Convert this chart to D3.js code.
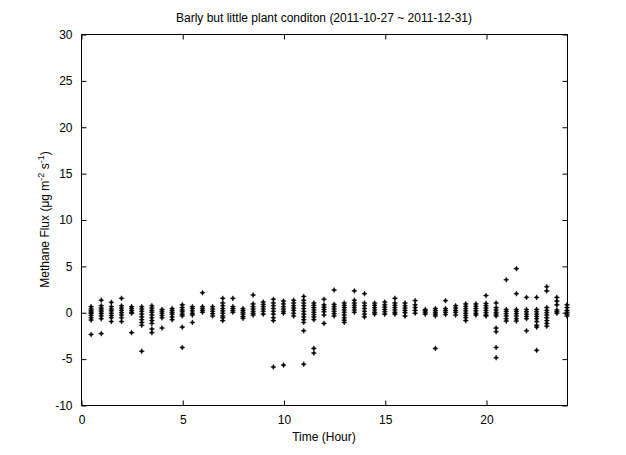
<!DOCTYPE html>
<html><head><meta charset="utf-8">
<script src="https://cdn.jsdelivr.net/npm/d3@7"></script>
<style>body{margin:0;background:#fff}svg{display:block;font-family:"Liberation Sans",Arial,sans-serif}</style>
</head><body>
<svg id="c" width="626" height="455"></svg>
<script>
const title = "Barly but little plant conditon (2011-10-27 ~ 2011-12-31)";
const xTicks = [0, 5, 10, 15, 20];
const yTicks = [-10, -5, 0, 5, 10, 15, 20, 25, 30];
const hours = [0.5,1.0,1.5,2.0,2.5,3.0,3.5,4.0,4.5,5.0,5.5,6.0,6.5,7.0,7.5,8.0,
  8.5,9.0,9.5,10.0,10.5,11.0,11.5,12.0,12.5,13.0,13.5,14.0,14.5,15.0,15.5,16.0,
  16.5,17.0,17.5,18.0,18.5,19.0,19.5,20.0,20.5,21.0,21.5,22.0,22.5,23.0,23.5,24.0];
const flux = [
  [0.6,0.35,0.15,0,-0.15,-0.35,-0.6,-0.84,-2.4],
  [1.3,0.7,0.45,0.25,0.05,-0.15,-0.4,-0.7,-2.3],
  [1.07,0.6,0.35,0.15,-0.1,-0.35,-0.6,-1.0],
  [1.5,0.7,0.45,0.2,-0.05,-0.3,-0.6,-1.0],
  [0.6,0.4,0.2,0,-0.1,-2.2],
  [0.6,0.35,0.1,-0.2,-0.5,-0.8,-1.1,-1.4,-4.2],
  [0.7,0.45,0.2,0,-0.3,-0.6,-0.9,-1.2,-1.8,-2.2],
  [0.3,0.1,-0.1,-0.35,-0.6,-1.7],
  [0.4,0.2,0,-0.2,-0.5,-0.8],
  [0.8,0.5,0.25,0.05,-0.2,-0.4,-1.6,-3.8],
  [0.6,0.4,0.15,-0.1,-0.3,-1.1],
  [2.1,0.6,0.4,0.2,0],
  [0.6,0.35,0.1,-0.15,-0.4],
  [1.5,1.0,0.7,0.4,0.15,-0.1,-0.4,-0.6,-0.9],
  [1.5,0.6,0.4,0.2,0],
  [0.4,0.2,0,-0.2,-0.45,-0.65],
  [1.86,0.9,0.6,0.35,0.1,-0.1,-0.3],
  [1.1,0.85,0.6,0.35,0.1,-0.2],
  [1.4,1.0,0.7,0.4,0.1,-0.2,-0.6,-0.9,-5.9],
  [1.2,0.9,0.6,0.35,0.1,-0.1,-5.7],
  [1.3,1.0,0.7,0.45,0.2,-0.1,-0.4],
  [1.7,1.3,1.0,0.7,0.4,0.1,-0.2,-0.5,-0.8,-1.1,-2.0,-5.6],
  [1.0,0.75,0.5,0.25,0,-0.25,-0.5,-0.8,-3.9,-4.4],
  [1.4,0.8,0.55,0.3,0.05,-0.3,-1.2],
  [2.4,0.85,0.6,0.35,0.1,-0.15,-0.4],
  [1.0,0.75,0.5,0.25,0,-0.3,-0.6,-0.85,-1.1],
  [2.3,1.3,1.0,0.75,0.5,0.25,0],
  [2.0,1.0,0.7,0.4,0.1,-0.2,-0.5],
  [1.0,0.75,0.5,0.25,0,-0.2],
  [1.1,0.8,0.55,0.3,0.05,-0.2],
  [1.5,1.0,0.75,0.5,0.25,0,-0.2],
  [1.0,0.7,0.45,0.2,-0.05,-0.4],
  [1.25,0.8,0.5,0.2,-0.1],
  [0.3,0.15,0,-0.2],
  [0.4,0.2,0,-0.2,-0.4,-3.9],
  [1.25,0.4,0.2,0,-0.25],
  [0.7,0.45,0.2,0,-0.3],
  [0.9,0.65,0.4,0.15,-0.1,-0.35,-0.6,-0.9],
  [0.9,0.65,0.4,0.15,-0.1,-0.3],
  [1.8,0.95,0.7,0.45,0.2,-0.05,-0.3,-0.4],
  [1.0,0.5,0.25,0,-0.2,-0.4,-1.7,-2.1,-3.8,-4.9],
  [3.5,0.3,0.1,-0.15,-0.4,-0.7,-0.95],
  [4.7,2.0,0.3,0.1,-0.15,-0.4,-0.7,-0.95],
  [1.6,0.3,0.05,-0.2,-0.45,-0.7,-2.0],
  [1.6,0.3,0.05,-0.2,-0.45,-0.7,-1.0,-1.4,-1.6,-4.1],
  [2.75,2.3,0.5,0.2,-0.05,-0.3,-0.6,-0.9,-1.2,-1.5],
  [1.6,1.2,0.8,0.25,0.05,-0.1],
  [0.8,0.5,0.2,0,-0.2,-0.4]
];

const svg = d3.select("#c");
const m = {l:81, r:567, t:34, b:405};
const x = d3.scaleLinear().domain([0,24]).range([m.l, m.r]);
const y = d3.scaleLinear().domain([-10,30]).range([m.b, m.t]);

const pts = [];
hours.forEach((h,i)=>(flux[i]||[]).forEach(v=>pts.push([h,v])));

svg.append("clipPath").attr("id","clip").append("rect")
  .attr("x",m.l).attr("y",m.t).attr("width",m.r-m.l+4).attr("height",m.b-m.t);
svg.append("g").attr("clip-path","url(#clip)")
  .selectAll("path").data(pts).join("path")
  .attr("transform",d=>`translate(${x(d[0])},${y(d[1])})`)
  .attr("d","M0,-2.6L0.8,-0.8L2.6,0L0.8,0.8L0,2.6L-0.8,0.8L-2.6,0L-0.8,-0.8Z")
  .attr("fill","#000").attr("stroke","#000").attr("stroke-width",0.5);

const tl = 5;
svg.append("rect").attr("x",m.l+0.5).attr("y",m.t+0.5).attr("width",m.r-m.l).attr("height",m.b-m.t)
  .attr("fill","none").attr("stroke","#000");

const fmt = d => String(d);
const xb = svg.append("g").attr("transform",`translate(0.5,${m.b+0.5})`)
  .call(d3.axisBottom(x).tickValues(xTicks).tickFormat(fmt).tickSizeInner(-tl).tickSizeOuter(0).tickPadding(10));
const xt = svg.append("g").attr("transform",`translate(0.5,${m.t+0.5})`)
  .call(d3.axisTop(x).tickValues(xTicks).tickSizeInner(-tl).tickSizeOuter(0).tickFormat(""));
const yl = svg.append("g").attr("transform",`translate(${m.l+0.5},0.5)`)
  .call(d3.axisLeft(y).tickValues(yTicks).tickFormat(fmt).tickSizeInner(-tl).tickSizeOuter(0).tickPadding(9));
const yr = svg.append("g").attr("transform",`translate(${m.r+0.5},0.5)`)
  .call(d3.axisRight(y).tickValues(yTicks).tickSizeInner(-tl).tickSizeOuter(0).tickFormat(""));
[xb,xt,yl,yr].forEach(g=>{g.select(".domain").remove();
  g.selectAll("text").attr("font-size",12).attr("font-family","Liberation Sans, Arial, sans-serif").attr("fill","#000");
  g.selectAll("line").attr("stroke","#000");});

svg.append("text").attr("x",(m.l+m.r)/2).attr("y",22).attr("text-anchor","middle")
  .attr("font-size",12).text(title);
svg.append("text").attr("x",(m.l+m.r)/2).attr("y",441).attr("text-anchor","middle")
  .attr("font-size",12).text("Time (Hour)");

const yt = svg.append("text").attr("transform",`translate(49,${(m.t+m.b)/2}) rotate(-90)`)
  .attr("text-anchor","middle").attr("font-size",12);
yt.append("tspan").text("Methane Flux (\u03bcg m");
yt.append("tspan").attr("dy",-5).attr("font-size",9).text("-2");
yt.append("tspan").attr("dy",5).text(" s");
yt.append("tspan").attr("dy",-5).attr("font-size",9).text("-1");
yt.append("tspan").attr("dy",5).text(")");
</script>
</body></html>
